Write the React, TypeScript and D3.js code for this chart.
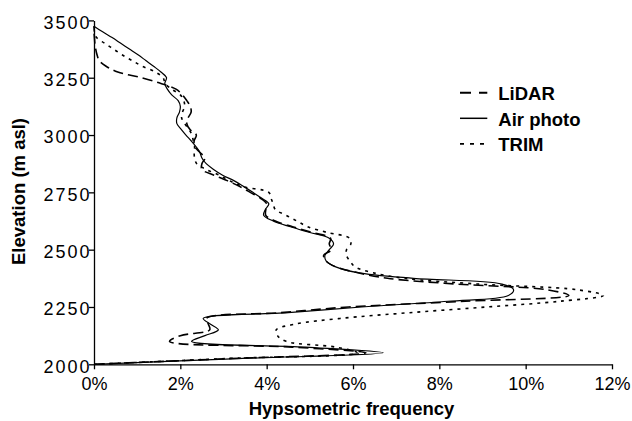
import { useEffect, useRef } from 'react';
import { scaleLinear, axisLeft, axisBottom, select, line, curveCatmullRom } from 'd3';

// elevation bins (m asl)
const elevation = [
  2000, 2025, 2050, 2075, 2100, 2125, 2150, 2175, 2200, 2225, 2250, 2275,
  2300, 2325, 2350, 2375, 2400, 2425, 2450, 2475, 2500, 2525, 2550, 2575,
  2600, 2625, 2650, 2675, 2700, 2725, 2750, 2775, 2800, 2825, 2850, 2875,
  2900, 2925, 2950, 2975, 3000, 3025, 3050, 3075, 3100, 3125, 3150, 3175,
  3200, 3225, 3250, 3275, 3300, 3325, 3350, 3375, 3400, 3425, 3450, 3475,
];

// hypsometric frequency (%)
const lidar = [
  0, 3.15, 6.3, 4.6, 1.75, 2.0, 2.68, 2.65, 2.6, 4.3, 5.9, 8.6,
  11.0, 10.5, 8.4, 6.8, 6.1, 5.6, 5.38, 5.32, 5.5, 5.45, 5.48, 5.05,
  4.6, 4.2, 3.98, 3.98, 4.0, 3.85, 3.62, 3.38, 3.1, 2.78, 2.5, 2.5,
  2.57, 2.45, 2.33, 2.32, 2.37, 2.22, 2.15, 2.18, 2.25, 2.23, 2.15, 2.05,
  1.9, 1.55, 1.1, 0.55, 0.28, 0.12, 0.07, 0.04, 0.02, 0.01, 0, 0,
];

const airPhoto = [
  0, 3.35, 6.7, 4.9, 2.26, 2.57, 2.88, 2.7, 2.53, 4.5, 6.2, 8.2,
  9.6, 9.72, 9.45, 7.4, 6.1, 5.6, 5.38, 5.35, 5.45, 5.55, 5.45, 5.0,
  4.55, 4.15, 3.93, 3.97, 4.05, 3.88, 3.68, 3.47, 3.25, 2.98, 2.77, 2.6,
  2.5, 2.45, 2.36, 2.25, 2.13, 2.02, 1.92, 1.92, 1.98, 2.0, 1.95, 1.8,
  1.7, 1.64, 1.68, 1.55, 1.38, 1.2, 1.02, 0.82, 0.62, 0.42, 0.2, 0,
];

const trim = [
  0, 3.05, 6.1, 5.6, 4.45, 4.25, 4.22, 4.65, 5.7, 7.3, 9.1, 10.8,
  11.8, 11.2, 8.9, 7.2, 6.45, 6.05, 5.93, 5.85, 5.85, 5.95, 5.92, 5.4,
  4.95, 4.7, 4.45, 4.2, 4.15, 4.1, 4.05, 3.45, 3.15, 2.9, 2.6, 2.38,
  2.33, 2.32, 2.33, 2.3, 2.27, 2.2, 2.1, 2.03, 2.05, 2.1, 2.08, 2.0,
  1.8, 1.65, 1.6, 1.42, 1.12, 0.88, 0.65, 0.45, 0.25, 0.06, 0.01, 0,
];

const yTicks = [2000, 2250, 2500, 2750, 3000, 3250, 3500];
const xTicks = [0, 2, 4, 6, 8, 10, 12];

const series = [
  { name: 'LiDAR', values: lidar, dash: '10,5', width: 1.6 },
  { name: 'Air photo', values: airPhoto, dash: null, width: 1.2 },
  { name: 'TRIM', values: trim, dash: '3,5', width: 1.6 },
];

const font = '"Liberation Sans", Arial, Helvetica, sans-serif';

const Chart = ({ width = 632, height = 421 }) => {
  const svgRef = useRef(null);

  useEffect(() => {
    const svg = select(svgRef.current);
    svg.selectAll('*').remove();

    const left = 94, right = 612, top = 20.4, bottom = 364.3;

    const x = scaleLinear().domain([0, 12]).range([left, right]);
    const y = scaleLinear().domain([2000, 3500]).range([bottom, top]);

    // y axis
    const gy = svg.append('g')
      .attr('transform', `translate(${left},0)`)
      .call(axisLeft(y).tickValues(yTicks).tickSize(5).tickSizeOuter(0).tickFormat(d => String(d)));
    gy.select('.domain').attr('stroke', '#000').attr('stroke-width', 1.3);
    gy.selectAll('.tick line').attr('stroke', '#000').attr('stroke-width', 1.3);
    gy.selectAll('.tick text')
      .attr('x', -2.5)
      .attr('dy', null)
      .attr('y', 7.9)
      .attr('fill', '#000')
      .style('font-family', font)
      .style('font-size', '18px')
      .style('letter-spacing', '2px');

    // x axis
    const gx = svg.append('g')
      .attr('transform', `translate(0,${bottom})`)
      .call(axisBottom(x).tickValues(xTicks).tickSize(5).tickSizeOuter(0).tickFormat(d => `${d}%`));
    gx.select('.domain').attr('stroke', '#000').attr('stroke-width', 1.3);
    gx.selectAll('.tick line').attr('stroke', '#000').attr('stroke-width', 1.3);
    gx.selectAll('.tick text')
      .attr('dy', null)
      .attr('y', 25.7)
      .attr('fill', '#000')
      .style('font-family', font)
      .style('font-size', '18px');

    // axis titles
    svg.append('text')
      .attr('transform', 'translate(25,191.5) rotate(-90)')
      .attr('text-anchor', 'middle')
      .style('font-family', font)
      .style('font-size', '18.5px')
      .style('font-weight', 'bold')
      .text('Elevation (m asl)');

    svg.append('text')
      .attr('x', 351.5)
      .attr('y', 415)
      .attr('text-anchor', 'middle')
      .style('font-family', font)
      .style('font-size', '18.5px')
      .style('font-weight', 'bold')
      .text('Hypsometric frequency');

    // curves, smoothed like the spreadsheet original
    const path = line()
      .x(d => x(d[0]))
      .y(d => y(d[1]))
      .curve(curveCatmullRom.alpha(0.5));

    series.forEach(s => {
      const pts = s.values.map((v, i) => [v, elevation[i]]);
      svg.append('path')
        .attr('d', path(pts))
        .attr('fill', 'none')
        .attr('stroke', '#000')
        .attr('stroke-width', s.width)
        .attr('stroke-dasharray', s.dash);
    });

    // legend
    const legend = svg.append('g').attr('transform', 'translate(460,92.7)');
    series.forEach((s, i) => {
      legend.append('line')
        .attr('x1', 0).attr('x2', 27.3)
        .attr('y1', i * 25.6).attr('y2', i * 25.6)
        .attr('stroke', '#000')
        .attr('stroke-width', s.width + 0.3)
        .attr('stroke-dasharray', s.name === 'LiDAR' ? '11,8' : s.name === 'TRIM' ? '4,6' : null);
      legend.append('text')
        .attr('x', 38.3)
        .attr('y', i * 25.6 + 7.3)
        .style('font-family', font)
        .style('font-size', '18.5px')
        .style('font-weight', 'bold')
        .text(s.name);
    });
  }, [width, height]);

  return (
    <svg ref={svgRef} width={width} height={height}
      style={{ position: 'absolute', left: 0, top: 0, background: '#fff' }} />
  );
};

export default function App() {
  return <Chart />;
}
